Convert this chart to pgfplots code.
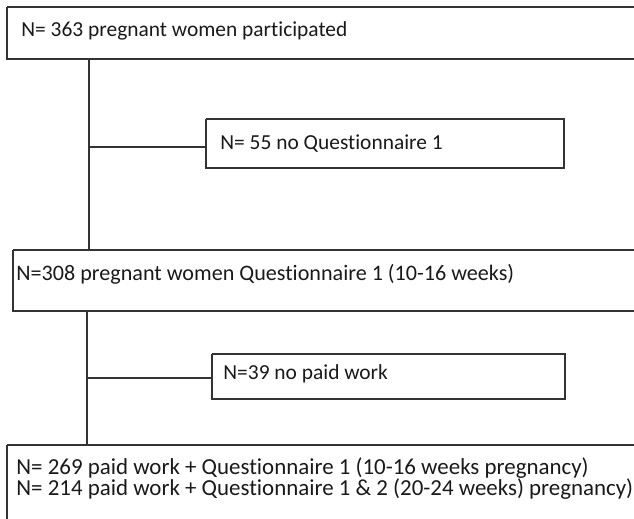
\documentclass[border=0pt]{standalone}
\usepackage{fontspec}
\setmainfont{Carlito}[Ligatures=NoCommon]
\usepackage{pgfplots}
\pgfplotsset{compat=1.18}
\pgfplotsset{ln/.style={draw=black!80, line width=0.9bp, mark=none}}
\tikzset{tx/.style={font=\fontsize{10.75}{13}\selectfont, text=black!90, inner sep=0pt, anchor=base west}}
\begin{document}
\begin{tikzpicture}
\begin{axis}[
  width=317bp, height=259.5bp, scale only axis,
  xmin=0, xmax=634, ymin=0, ymax=519, y dir=reverse,
  axis line style={draw=none}, xtick=\empty, ytick=\empty,
  clip=true,
]
% boxes
\addplot[ln] coordinates {(7,7) (660,7) (660,59) (7,59) (7,7)};
\addplot[ln] coordinates {(206,119) (564,119) (564,168) (206,168) (206,119)};
\addplot[ln] coordinates {(13,250) (660,250) (660,311) (13,311) (13,250)};
\addplot[ln] coordinates {(212,354) (565,354) (565,399) (212,399) (212,354)};
\addplot[ln] coordinates {(7,445) (660,445) (660,540) (7,540) (7,445)};
% connectors
\addplot[ln] coordinates {(89,59) (89,250)};
\addplot[ln] coordinates {(89,147) (206,147)};
\addplot[ln] coordinates {(87,311) (87,445)};
\addplot[ln] coordinates {(87,378) (212,378)};
% texts
\node[tx] at (axis cs:21,37) {N= 363 pregnant women participated};
\node[tx] at (axis cs:220,149) {N= 55 no Questionnaire 1};
\node[tx, font=\fontsize{11.1}{13}\selectfont] at (axis cs:16,280) {N=308 pregnant women Questionnaire 1 (10-16 weeks)};
\node[tx] at (axis cs:223,379) {N=39 no paid work};
\node[tx, font=\fontsize{11.5}{13}\selectfont] at (axis cs:16,474) {N= 269 paid work + Questionnaire 1 (10-16 weeks pregnancy)};
\node[tx, font=\fontsize{11.5}{13}\selectfont] at (axis cs:16,495) {N= 214 paid work + Questionnaire 1 \& 2 (20-24 weeks) pregnancy)};
\end{axis}
\end{tikzpicture}
\end{document}
